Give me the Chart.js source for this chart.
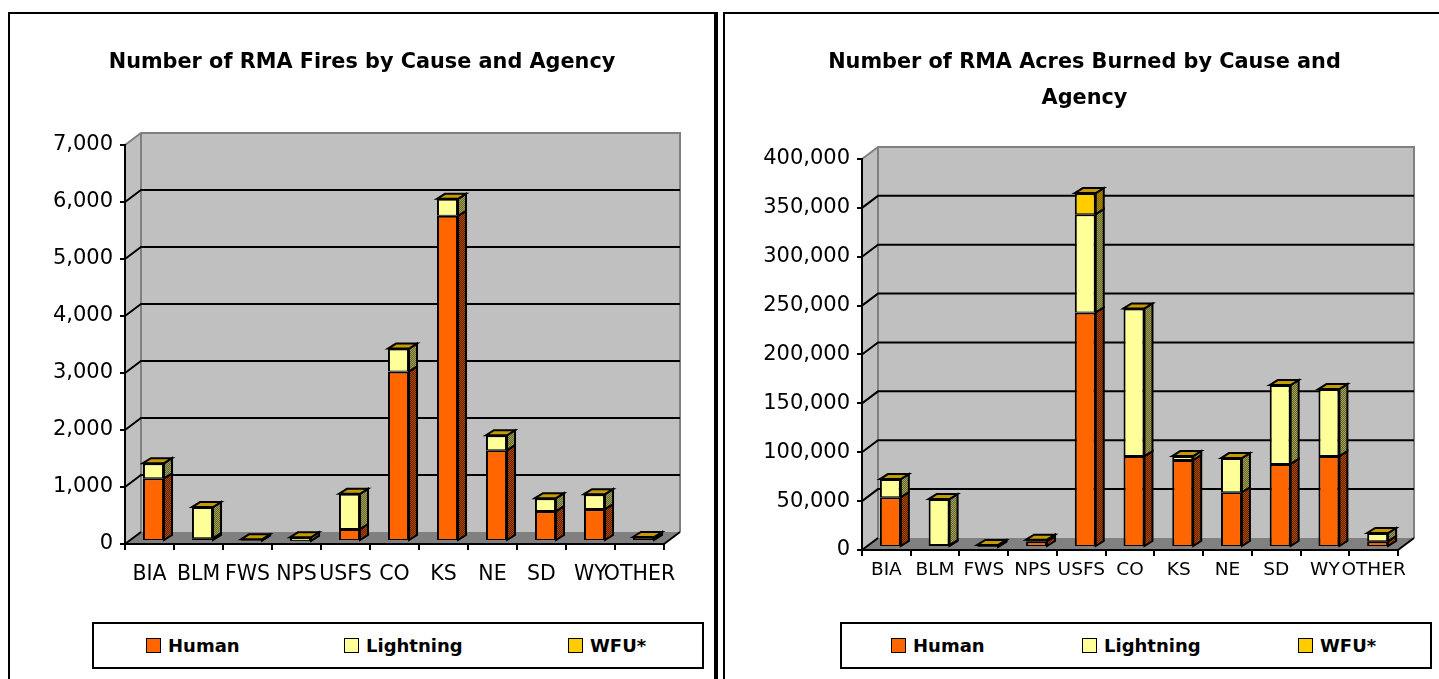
<!DOCTYPE html>
<html>
<head>
<meta charset="utf-8">
<script src="https://cdn.jsdelivr.net/npm/chart.js@4"></script>
<style>
    html, body { margin: 0; padding: 0; background: #fff; overflow: hidden; }
    body { width: 1439px; height: 679px; position: relative; font-family: "DejaVu Sans", sans-serif; }
    .panel { position: absolute; top: 12px; height: 667px; box-sizing: border-box; border-top: 2px solid #000; border-left: 2px solid #000; }
    #panelLeft { left: 8px; width: 710px; border-right: 4px solid #000; }
    #panelRight { left: 723px; width: 716px; }
    canvas { position: absolute; top: 0; }
    .legendBox { position: absolute; top: 622px; height: 47px; box-sizing: border-box; border: 2px solid #000; background: #fff; }
    .legendItem { position: absolute; top: 9px; font-weight: bold; font-size: 18px; line-height: 26px; white-space: nowrap; }
    .legendItem i { display: inline-block; width: 13px; height: 13px; border: 1px solid #000; margin-right: 7px; vertical-align: -1px; }
</style>
</head>
<body>
<div class="panel" id="panelLeft"></div>
<div class="panel" id="panelRight"></div>
<canvas id="firesPlot" width="717" height="620" style="left:0;width:717px;height:620px"></canvas>
<canvas id="acresPlot" width="715" height="620" style="left:724px;width:715px;height:620px"></canvas>
<div class="legendBox" id="firesLegend" style="left:92px;width:612px"></div>
<div class="legendBox" id="acresLegend" style="left:840px;width:592px"></div>

<script>
// Number of fires
const firesCategories = ['BIA', 'BLM', 'FWS', 'NPS', 'USFS', 'CO', 'KS', 'NE', 'SD', 'WY', 'OTHER'];
const firesHuman = [1100, 50, 10, 5, 210, 2975, 5705, 1593, 525, 560, 60];
const firesLightning = [266, 545, 10, 60, 618, 400, 298, 262, 227, 262, 5];
const firesWfu = [0, 0, 10, 0, 0, 0, 0, 0, 0, 0, 5];

// Acres burned
const acresCategories = ['BIA', 'BLM', 'FWS', 'NPS', 'USFS', 'CO', 'KS', 'NE', 'SD', 'WY', 'OTHER'];
const acresHuman = [51000, 2000, 300, 6000, 240000, 93000, 89000, 56000, 85000, 93000, 6000];
const acresLightning = [18500, 47000, 300, 1000, 100500, 151000, 4000, 35000, 80600, 68500, 8300];
const acresWfu = [0, 0, 1500, 500, 21500, 0, 0, 0, 0, 0, 0];

const seriesNames = ['Human', 'Lightning', 'WFU*'];
const seriesColors = ['#ff6600', '#ffff99', '#ffcc00'];
const sideColors = [['#b34700', '#5c2400'], ['#a0a050', '#666633'], ['#b08c00', '#806600']];
const capColor = '#c49c00';

// 2px checker, the side faces in the original are dithered
function checker(colors) {
    const c = document.createElement('canvas');
    c.width = 2;
    c.height = 2;
    const g = c.getContext('2d');
    g.fillStyle = colors[0];
    g.fillRect(0, 0, 2, 2);
    g.fillStyle = colors[1];
    g.fillRect(0, 0, 1, 1);
    g.fillRect(1, 1, 1, 1);
    return g.createPattern(c, 'repeat');
}

function poly(ctx, pts, fill, stroke, width) {
    ctx.beginPath();
    pts.forEach((p, i) => i ? ctx.lineTo(p[0], p[1]) : ctx.moveTo(p[0], p[1]));
    ctx.closePath();
    if (fill) {
        ctx.fillStyle = fill;
        ctx.fill();
    }
    if (stroke) {
        ctx.strokeStyle = stroke;
        ctx.lineWidth = width;
        ctx.stroke();
    }
}

// Excel style 3D box: walls, floor, and the bar side faces
const depth = { wallX: 16, wallY: -12, barX: 4, barY: -3, sideX: 8, sideY: -5 };

const box3d = {
    id: 'box3d',
    afterLayout(chart) {
        // title is centred on the page panel, not on the plot
        const shift = chart.options.plugins.box3d.titleShift;
        chart.titleBlock.left += shift;
        chart.titleBlock.right += shift;
    },
    beforeDraw(chart) {
        const { ctx, chartArea: a, scales: { y } } = chart;
        const dx = depth.wallX, dy = depth.wallY;
        ctx.save();
        poly(ctx, [[a.left, a.top], [a.left + dx, a.top + dy], [a.left + dx, a.bottom + dy], [a.left, a.bottom]], '#c0c0c0');
        poly(ctx, [[a.left + dx, a.top + dy], [a.right + dx, a.top + dy], [a.right + dx, a.bottom + dy], [a.left + dx, a.bottom + dy]], '#c0c0c0');
        poly(ctx, [[a.left, a.bottom], [a.right, a.bottom], [a.right + dx, a.bottom + dy], [a.left + dx, a.bottom + dy]], '#808080');
        ctx.strokeStyle = '#808080';
        ctx.lineWidth = 2;
        ctx.beginPath();
        ctx.moveTo(a.left, a.top);
        ctx.lineTo(a.left + dx, a.top + dy);
        ctx.lineTo(a.right + dx, a.top + dy);
        ctx.lineTo(a.right + dx, a.bottom + dy);
        ctx.moveTo(a.left + dx, a.top + dy);
        ctx.lineTo(a.left + dx, a.bottom + dy);
        ctx.stroke();
        ctx.strokeStyle = '#000';
        y.ticks.forEach(t => {
            const py = y.getPixelForValue(t.value);
            if (t.value === y.max) return;
            ctx.beginPath();
            ctx.moveTo(a.left, py);
            ctx.lineTo(a.left + dx, py + dy);
            if (t.value !== 0) ctx.lineTo(a.right + dx, py + dy);
            ctx.stroke();
        });
        ctx.beginPath();
        ctx.moveTo(a.right, a.bottom);
        ctx.lineTo(a.right + dx, a.bottom + dy);
        ctx.stroke();
        ctx.restore();
    },
    beforeDatasetsDraw(chart) {
        const { ctx } = chart;
        // bars stand a little inside the box, not on the front edge
        ctx.save();
        ctx.translate(depth.barX, depth.barY);
        const sx = depth.sideX, sy = depth.sideY;
        const metas = chart.getSortedVisibleDatasetMetas();
        metas.forEach((meta, d) => {
            const side = checker(sideColors[d]);
            meta.data.forEach(bar => {
                const r = bar.x + bar.width / 2;
                if (Math.abs(bar.base - bar.y) < 0.01) return;
                poly(ctx, [[r, bar.y], [r + sx, bar.y + sy], [r + sx, bar.base + sy], [r, bar.base]], side, '#000', 2);
            });
        });
        // cap on top of each stack, takes the colour of the last series
        metas[metas.length - 1].data.forEach(bar => {
            const l = bar.x - bar.width / 2, r = bar.x + bar.width / 2;
            poly(ctx, [[l, bar.y], [l + sx, bar.y + sy], [r + sx, bar.y + sy], [r, bar.y]], capColor, '#000', 2);
        });
    },
    afterDatasetsDraw(chart) {
        chart.ctx.restore();
    }
};

function makeChart(id, categories, series, opts) {
    return new Chart(document.getElementById(id), {
        type: 'bar',
        data: {
            labels: categories,
            datasets: series.map((values, i) => ({
                label: seriesNames[i],
                data: values,
                backgroundColor: seriesColors[i],
                borderColor: '#000',
                borderWidth: { top: 2, bottom: 1, left: 2, right: 2 },
                borderSkipped: false,
                barPercentage: 0.43,
                categoryPercentage: 1
            }))
        },
        options: {
            responsive: false,
            animation: false,
            layout: { padding: { left: 0, right: opts.padRight, top: 0, bottom: 0 } },
            plugins: {
                box3d: { titleShift: opts.titleShift },
                legend: { display: false },
                tooltip: { enabled: false },
                title: {
                    display: true,
                    text: opts.title,
                    color: '#000',
                    font: { family: '"DejaVu Sans"', size: 20.8, weight: 'bold', lineHeight: 1.73 },
                    padding: opts.titlePadding
                }
            },
            scales: {
                x: {
                    stacked: true,
                    afterFit: s => { s.height = opts.xHeight; },
                    border: { color: '#000', width: 2 },
                    grid: { drawOnChartArea: false, color: '#000', lineWidth: 2, tickLength: 6 },
                    ticks: {
                        autoSkip: false, maxRotation: 0, minRotation: 0, color: '#000', padding: opts.xPad,
                        font: { family: '"DejaVu Sans"', size: opts.xFont }
                    }
                },
                y: {
                    stacked: true,
                    min: 0,
                    max: opts.max,
                    afterFit: s => { s.width = opts.yWidth; },
                    border: { color: '#000', width: 2 },
                    grid: { drawOnChartArea: false, color: '#000', lineWidth: 2, tickLength: 5 },
                    ticks: {
                        stepSize: opts.step, color: '#000', padding: 7,
                        font: { family: '"DejaVu Sans"', size: 21 },
                        callback: v => v.toLocaleString('en-US')
                    }
                }
            }
        },
        plugins: [box3d]
    });
}

function makeLegend(id, lefts) {
    const box = document.getElementById(id);
    seriesNames.forEach((name, i) => {
        const item = document.createElement('div');
        item.className = 'legendItem';
        item.style.left = lefts[i] + 'px';
        const swatch = document.createElement('i');
        swatch.style.background = seriesColors[i];
        item.appendChild(swatch);
        item.appendChild(document.createTextNode(name));
        box.appendChild(item);
    });
}

makeChart('firesPlot', firesCategories, [firesHuman, firesLightning, firesWfu], {
    title: 'Number of RMA Fires by Cause and Agency',
    titlePadding: { top: 45, bottom: 64 },
    max: 7000, step: 1000,
    padRight: 53, yWidth: 125, xHeight: 76, xFont: 20.5, xPad: 12, titleShift: 30
});

makeChart('acresPlot', acresCategories, [acresHuman, acresLightning, acresWfu], {
    title: ['Number of RMA Acres Burned by Cause and', 'Agency'],
    titlePadding: { top: 45, bottom: 42 },
    max: 400000, step: 50000,
    padRight: 41, yWidth: 138, xHeight: 70, xFont: 18.5, xPad: 3, titleShift: 23.5
});

makeLegend('firesLegend', [52, 250, 474]);
makeLegend('acresLegend', [49, 240, 456]);
</script>
</body>
</html>
